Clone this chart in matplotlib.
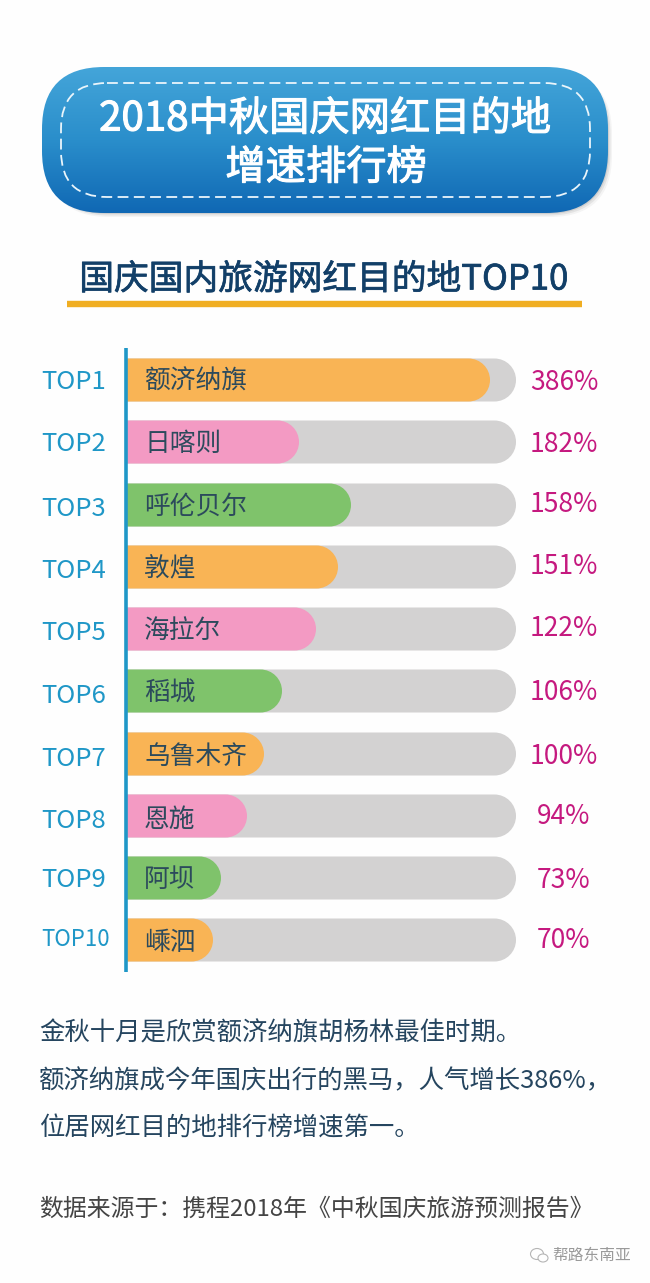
import numpy as np
import matplotlib
matplotlib.use('Agg')
import matplotlib.pyplot as plt
import matplotlib.patheffects as pe
from matplotlib.patches import FancyBboxPatch, PathPatch, Ellipse
from matplotlib.path import Path
from matplotlib.colors import LinearSegmentedColormap

plt.rcParams['font.family'] = ['Noto Sans CJK SC', 'DejaVu Sans']

# ---------------------------------------- data -------------------------
ranks = ['TOP1', 'TOP2', 'TOP3', 'TOP4', 'TOP5', 'TOP6', 'TOP7', 'TOP8', 'TOP9', 'TOP10']
places = ['额济纳旗', '日喀则', '呼伦贝尔', '敦煌', '海拉尔', '稻城', '乌鲁木齐', '恩施', '阿坝', '嵊泗']
growth = [386, 182, 158, 151, 122, 106, 100, 94, 73, 70]
# the drawn bars do not scale with the printed percentages, so lengths are read off separately
bar_lengths = [363, 172, 224, 211, 189, 155, 137, 120, 94, 86]
bar_colors = ['#f9b455', '#f39ac3', '#7fc36b', '#f9b455', '#f39ac3', '#7fc36b',
              '#f9b455', '#f39ac3', '#7fc36b', '#f9b455']
track_length = 389

title_lines = ['2018中秋国庆网红目的地', '增速排行榜']
subtitle = '国庆国内旅游网红目的地TOP10'
notes = ['金秋十月是欣赏额济纳旗胡杨林最佳时期。',
         '额济纳旗成今年国庆出行的黑马，人气增长386%，',
         '位居网红目的地排行榜增速第一。']
source = '数据来源于：携程2018年《中秋国庆旅游预测报告》'
watermark = '帮路东南亚'

# row positions in pixels
bar_y = [380, 442, 505, 567, 629, 691, 754, 816, 878, 940]
rank_y = [382, 444, 509, 571, 633, 696, 759, 821, 880, 940]
pct_y = [382, 444, 504, 567, 629, 692, 756, 816, 880, 941]
name_y = [382, 444, 507, 569, 631, 694, 757, 820, 880, 943]


def round_bar(ax, x0, length, yc, h, color, z):
    # square on the left, half round on the right
    x1 = x0 + length
    r = h / 2
    k = 0.5523 * r
    top, bot = yc - r, yc + r
    verts = [(x0, top), (x1 - r, top),
             (x1 - r + k, top), (x1, yc - k), (x1, yc),
             (x1, yc + k), (x1 - r + k, bot), (x1 - r, bot),
             (x0, bot), (x0, top)]
    codes = [Path.MOVETO, Path.LINETO,
             Path.CURVE4, Path.CURVE4, Path.CURVE4,
             Path.CURVE4, Path.CURVE4, Path.CURVE4,
             Path.LINETO, Path.CLOSEPOLY]
    ax.add_patch(PathPatch(Path(verts, codes), facecolor=color, edgecolor='none', zorder=z))


fig = plt.figure(figsize=(6.5, 12.83), dpi=100, facecolor='#fefefe')
ax = fig.add_axes([0, 0, 1, 1])
ax.set_xlim(0, 650)
ax.set_ylim(1283, 0)
ax.axis('off')

# ---------------------------------------- header -------------------------
for off, a in [(6, 0.06), (4.5, 0.10), (3, 0.14), (1.5, 0.18)]:
    ax.add_patch(FancyBboxPatch((42 + 5, 67 + 5), 566 - 7 + off, 146 - 7 + off,
                                boxstyle='round,pad=0,rounding_size=62',
                                facecolor='#555555', edgecolor='none', alpha=a, zorder=1))
box = FancyBboxPatch((42, 67), 566, 146, boxstyle='round,pad=0,rounding_size=62',
                     facecolor='none', edgecolor='none', zorder=2)
ax.add_patch(box)
cmap = LinearSegmentedColormap.from_list('hdr', ['#44a5d9', '#2a8ecb', '#1068b4'])
im = ax.imshow(np.linspace(0, 1, 200).reshape(-1, 1), cmap=cmap, aspect='auto',
               extent=(42, 608, 213, 67), zorder=2)
im.set_clip_path(box)
ax.set_xlim(0, 650)
ax.set_ylim(1283, 0)
ax.add_patch(FancyBboxPatch((61, 83), 529, 114, boxstyle='round,pad=0,rounding_size=46',
                            facecolor='none', edgecolor='#eaf5fb', linewidth=1.3,
                            linestyle=(0, (6, 3)), zorder=3))
bold_white = [pe.withStroke(linewidth=0.8, foreground='white')]
ax.text(325, 119, title_lines[0], color='white', fontsize=29, ha='center', va='center',
        zorder=4, path_effects=bold_white)
ax.text(326, 168, title_lines[1], color='white', fontsize=29, ha='center', va='center',
        zorder=4, path_effects=bold_white)

ax.text(324, 280, subtitle, color='#123f68', fontsize=25, ha='center', va='center',
        path_effects=[pe.withStroke(linewidth=0.5, foreground='#123f68')])
ax.plot([67, 582], [304, 304], color='#f0ae22', linewidth=4.6, solid_capstyle='butt')

# ---------------------------------------- bars -------------------------
for i in range(len(ranks)):
    round_bar(ax, 127, track_length, bar_y[i], 43, '#d3d2d2', 2)
    round_bar(ax, 127, bar_lengths[i], bar_y[i], 43, bar_colors[i], 3)
    rank_size = 16 if ranks[i] == 'TOP10' else 18.5
    ax.text(41, rank_y[i], ranks[i], color='#1f97c7', fontsize=rank_size, ha='left', va='center')
    ax.text(144, name_y[i], places[i], color='#2c4a5c', fontsize=18.5, ha='left', va='center', zorder=4)
    ax.text(564, pct_y[i], '%d%%' % growth[i], color='#c5197f', fontsize=19, ha='center', va='center')
ax.plot([125.5, 125.5], [348, 972], color='#1f97c7', linewidth=2.6, solid_capstyle='butt', zorder=5)

# ---------------------------------------- notes -------------------------
for y, line in zip([1033, 1081, 1129], notes):
    ax.text(39, y, line, color='#25455f', fontsize=18.3, ha='left', va='center')
ax.text(39, 1209, source, color='#444444', fontsize=17.2, ha='left', va='center')

# watermark
ax.add_patch(Ellipse((537, 1254), 13, 11, facecolor='none', edgecolor='#b5b5b5', linewidth=0.8))
ax.add_patch(Ellipse((543, 1258), 10, 8, facecolor='#fefefe', edgecolor='#b5b5b5', linewidth=0.8))
ax.text(552, 1255, watermark, color='#9a9a9a', fontsize=11.3, ha='left', va='center')

fig.savefig('out.png', dpi=100, facecolor=fig.get_facecolor())
